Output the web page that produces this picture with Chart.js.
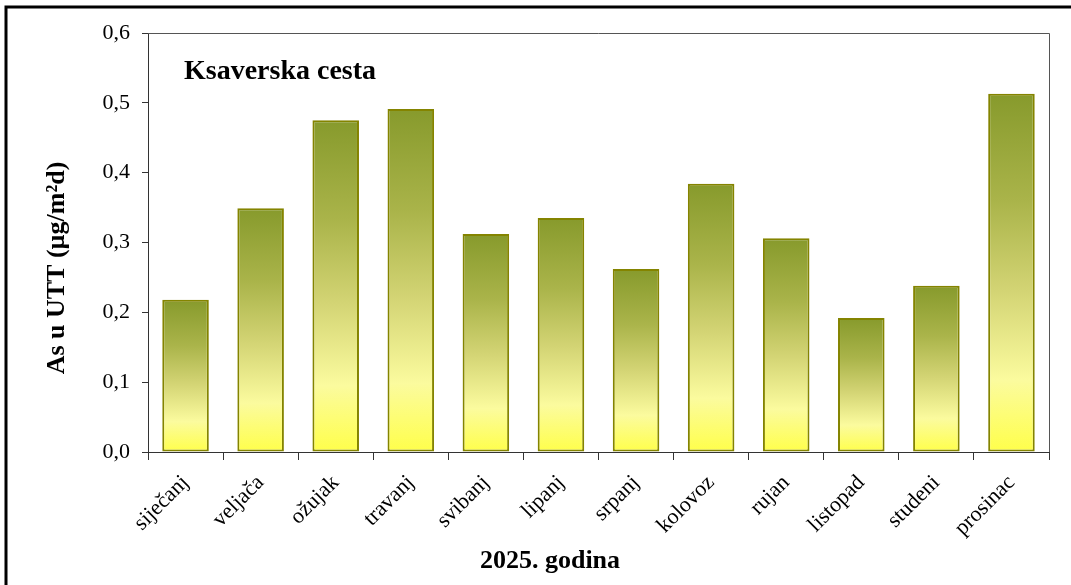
<!DOCTYPE html>
<html>
<head>
<meta charset="utf-8">
<script src="https://cdn.jsdelivr.net/npm/chart.js@4"></script>
<style>
  html, body { margin: 0; padding: 0; background: #fff; }
  #as-bar { display: block; }
</style>
</head>
<body>
<canvas id="as-bar" width="1071" height="585"></canvas>
<script>
const months = [
  "siječanj", "veljača", "ožujak", "travanj", "svibanj", "lipanj",
  "srpanj", "kolovoz", "rujan", "listopad", "studeni", "prosinac",
];
const asValues = [0.218, 0.349, 0.475, 0.491, 0.312, 0.335, 0.262, 0.384, 0.306, 0.192, 0.238, 0.513];
const chartTitle = "Ksaverska cesta";
const yTitle = "As u UTT (µg/m²d)";
const xTitle = "2025. godina";

const serif = "'Liberation Serif', 'Times New Roman', serif";

// per-bar gradient, from bar top down to zero line
function barGradient(context) {
  const chart = context.chart;
  const y = chart.scales.y;
  if (!y || context.raw === undefined) return "#c9c95e";
  const top = y.getPixelForValue(context.raw);
  const base = y.getPixelForValue(0);
  if (!isFinite(top) || !isFinite(base) || top === base) return "#c9c95e";
  const g = chart.ctx.createLinearGradient(0, top, 0, base);
  g.addColorStop(0, "#879a2c");
  g.addColorStop(0.3, "#aab44a");
  g.addColorStop(0.55, "#d3d474");
  g.addColorStop(0.8, "#fbfb9e");
  g.addColorStop(1, "#ffff4a");
  return g;
}

const decorations = {
  id: "decorations",
  afterDraw(chart) {
    const ctx = chart.ctx;
    const a = chart.chartArea;
    ctx.save();
    // plot frame
    ctx.strokeStyle = "#555";
    ctx.lineWidth = 1;
    ctx.beginPath();
    ctx.moveTo(a.left, a.top + 0.5);
    ctx.lineTo(a.right + 0.5, a.top + 0.5);
    ctx.lineTo(a.right + 0.5, a.bottom);
    ctx.stroke();
    // outer border
    ctx.strokeStyle = "#000";
    ctx.lineWidth = 3;
    ctx.beginPath();
    ctx.moveTo(6, 585);
    ctx.lineTo(6, 7);
    ctx.lineTo(1071, 7);
    ctx.stroke();
    // title inside plot
    ctx.fillStyle = "#000";
    ctx.font = "bold 28px " + serif;
    ctx.textBaseline = "middle";
    ctx.textAlign = "left";
    ctx.fillText(chartTitle, 184, 72);
    // x axis title
    ctx.font = "bold 26px " + serif;
    ctx.textAlign = "center";
    ctx.fillText(xTitle, 550, 561);
    // y axis title
    ctx.translate(57, 268);
    ctx.rotate(-Math.PI / 2);
    ctx.fillText(yTitle, 0, 0);
    ctx.restore();
  },
};

let asBar = document.getElementById("as-bar").getContext("2d");

let asBarChart = new Chart(asBar, {
  type: "bar",
  data: {
    labels: months,
    datasets: [
      {
        label: "As",
        data: asValues,
        backgroundColor: barGradient,
        borderColor: "#848400",
        borderWidth: 2,
        borderSkipped: false,
        barPercentage: 0.62,
        categoryPercentage: 1,
      },
    ],
  },
  options: {
    responsive: false,
    animation: false,
    devicePixelRatio: 1,
    layout: { padding: { top: 33, right: 22, bottom: 0, left: 0 } },
    plugins: {
      legend: { display: false },
      tooltip: { enabled: false },
    },
    scales: {
      x: {
        afterFit: (scale) => { scale.height = 133; },
        grid: { drawOnChartArea: false, color: "#333", tickLength: 8 },
        border: { color: "#333", width: 1 },
        ticks: {
          color: "#000",
          font: { family: serif, size: 22 },
          minRotation: 45,
          maxRotation: 45,
          padding: 10,
        },
      },
      y: {
        min: 0,
        max: 0.6,
        afterFit: (scale) => { scale.width = 148; },
        grid: { drawOnChartArea: false, color: "#333", tickLength: 6 },
        border: { color: "#333", width: 1 },
        ticks: {
          stepSize: 0.1,
          color: "#000",
          font: { family: serif, size: 22 },
          padding: 12,
          callback: (v) => v.toFixed(1).replace(".", ","),
        },
      },
    },
  },
  plugins: [decorations],
});
</script>
</body>
</html>
